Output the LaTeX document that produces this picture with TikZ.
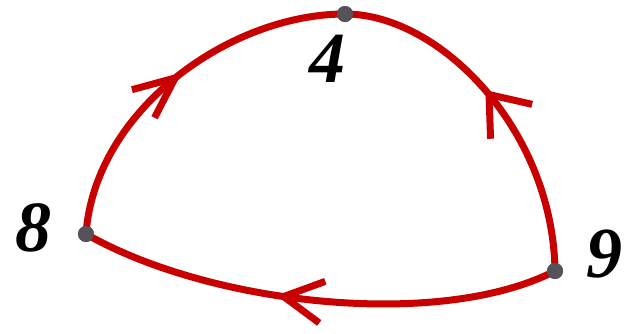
\documentclass[tikz,border=0pt]{standalone}
\usepackage{fontspec}
\setmainfont{Liberation Serif}
\usetikzlibrary{decorations.markings}
\definecolor{cyclered}{RGB}{200,0,0}
\definecolor{dotgray}{RGB}{85,82,92}
\tikzset{
  redline/.style={draw=cyclered,line width=7pt,line cap=butt,line join=miter},
  vertex/.style={circle,fill=dotgray,minimum size=16pt,inner sep=0pt},
  numlabel/.style={inner sep=0pt,font=\fontsize{72}{72}\selectfont\bfseries\itshape},
  vhead/.style n args={3}{postaction={decorate,decoration={markings,
    mark=at position #1 with {\draw[redline] (-#2,#3) -- (0pt,0pt) -- (-#2,-#3);}}}}
}
\begin{document}
\begin{tikzpicture}[x=1pt,y=-1pt]
\useasboundingbox (0,0) rectangle (629,333);
\node[vertex] (n4) at (345,14) {};
\node[vertex] (n8) at (86,234) {};
\node[vertex] (n9) at (555,271) {};
\node[numlabel] (l4) at (327,59) {4};
\node[numlabel] (l8) at (33,228) {8};
\node[numlabel] (l9) at (604,254) {9};
\draw[redline,vhead={0.5}{41pt}{18pt}] (n8.center) .. controls (95,110) and (230,14) .. (n4.center);
\draw[redline,vhead={0.53}{35pt}{27pt}] (n9.center) .. controls (553,130) and (440,14) .. (n4.center);
\draw[redline,vhead={0.57}{39pt}{21pt}] (n9.center) .. controls (440,330) and (210,305) .. (n8.center);
\node[vertex] at (n4) {};
\node[vertex] at (n8) {};
\node[vertex] at (n9) {};
\end{tikzpicture}
\end{document}
